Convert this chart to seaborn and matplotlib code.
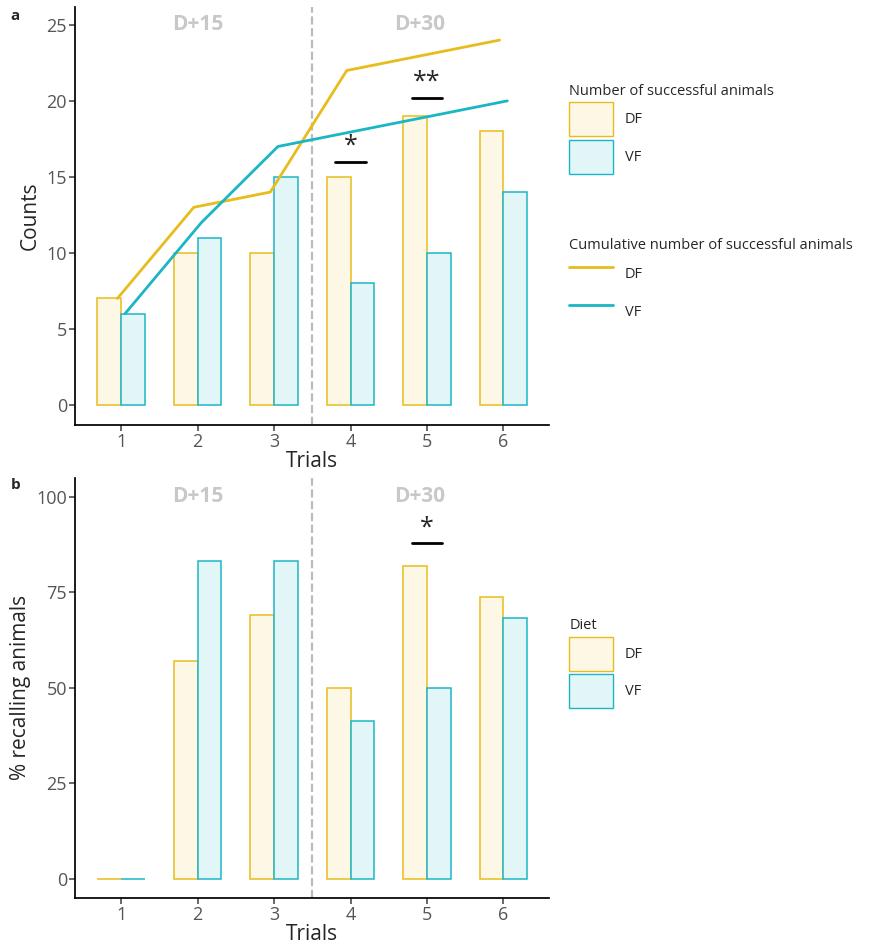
import numpy as np
import pandas as pd
import seaborn as sns
import matplotlib.pyplot as plt
from matplotlib.patches import Patch
from matplotlib.lines import Line2D

trials = ["1", "2", "3", "4", "5", "6"]
counts_df = [7, 10, 10, 15, 19, 18]
counts_vf = [6, 11, 15, 8, 10, 14]
cum_df = [7, 13, 14, 22, 23, 24]
cum_vf = [6, 12, 17, 18, 19, 20]
pct_df = [0, 57.1, 69.2, 50, 81.8, 73.9]
pct_vf = [0, 83.3, 83.3, 41.2, 50, 68.4]

DF_EDGE, DF_FILL = "#E8BC1C", "#FDF8E6"
VF_EDGE, VF_FILL = "#1BB6C6", "#E2F6F8"

sns.set_theme(style="white")
plt.rcParams['font.family'] = ['Open Sans', 'DejaVu Sans']

fig = plt.figure(figsize=(8.86, 9.5), dpi=100)
ax1 = fig.add_axes([0.085, 0.553, 0.535, 0.44])
ax2 = fig.add_axes([0.085, 0.055, 0.535, 0.442])


def bars(ax, v_df, v_vf):
    d = pd.DataFrame({"Trials": trials * 2, "val": v_df + v_vf,
                      "Diet": ["DF"] * 6 + ["VF"] * 6})
    sns.barplot(data=d, x="Trials", y="val", hue="Diet", ax=ax, width=0.62,
                gap=0, legend=False, errorbar=None)
    for i, p in enumerate(ax.patches):
        if i < 6:
            p.set_facecolor(DF_FILL); p.set_edgecolor(DF_EDGE)
        else:
            p.set_facecolor(VF_FILL); p.set_edgecolor(VF_EDGE)
        p.set_linewidth(1.1)
    ax.axvline(2.5, color="#BBBBBB", ls="--", lw=1.6, zorder=0)
    for s in ["top", "right"]:
        ax.spines[s].set_visible(False)
    for s in ["left", "bottom"]:
        ax.spines[s].set_color("black")
    ax.tick_params(axis="both", labelsize=13, colors="#555555", length=4,
                   left=True, bottom=True, pad=2)
    ax.set_xlabel("Trials", fontsize=15, labelpad=0)
    ax.set_xlim(-0.6, 5.6)


bars(ax1, counts_df, counts_vf)
x = np.arange(6)
ax1.plot(x - 0.05, cum_df, color=DF_EDGE, lw=2)
ax1.plot(x + 0.05, cum_vf, color=VF_EDGE, lw=2)
ax1.set_ylim(-1.3, 26.2)
ax1.set_yticks([0, 5, 10, 15, 20, 25])
ax1.set_ylabel("Counts", fontsize=15)
ax1.text(1, 25, "D+15", ha="center", va="center", fontsize=15, fontweight="bold", color="#C8C8C8")
ax1.text(3.9, 25, "D+30", ha="center", va="center", fontsize=15, fontweight="bold", color="#C8C8C8")
ax1.plot([2.8, 3.2], [16, 16], color="black", lw=2)
ax1.text(3, 16.2, "*", ha="center", va="bottom", fontsize=18)
ax1.plot([3.8, 4.2], [20.2, 20.2], color="black", lw=2)
ax1.text(4, 20.4, "**", ha="center", va="bottom", fontsize=18)

bars(ax2, pct_df, pct_vf)
ax2.set_ylim(-5, 105)
ax2.set_yticks([0, 25, 50, 75, 100])
ax2.set_ylabel("% recalling animals", fontsize=15)
ax2.text(1, 100, "D+15", ha="center", va="center", fontsize=15, fontweight="bold", color="#C8C8C8")
ax2.text(3.9, 100, "D+30", ha="center", va="center", fontsize=15, fontweight="bold", color="#C8C8C8")
ax2.plot([3.8, 4.2], [88, 88], color="black", lw=2)
ax2.text(4, 88.5, "*", ha="center", va="bottom", fontsize=18)

patches = [Patch(facecolor=DF_FILL, edgecolor=DF_EDGE, label="DF"),
           Patch(facecolor=VF_FILL, edgecolor=VF_EDGE, label="VF")]
lines = [Line2D([], [], color=DF_EDGE, lw=2, label="DF"),
         Line2D([], [], color=VF_EDGE, lw=2, label="VF")]
kw = dict(frameon=False, fontsize=10.5, title_fontsize=10.5, alignment="left",
          handlelength=3.0, handleheight=3.2, labelspacing=0.25,
          borderaxespad=0, handletextpad=0.8)
l1 = ax1.legend(handles=patches, title="Number of successful animals",
                loc="upper left", bbox_to_anchor=(1.03, 0.83), **kw)
ax1.add_artist(l1)
ax1.legend(handles=lines, title="Cumulative number of successful animals",
           loc="upper left", bbox_to_anchor=(1.03, 0.46), **kw)
ax2.legend(handles=patches, title="Diet", loc="upper left",
           bbox_to_anchor=(1.03, 0.68), **kw)

fig.text(0.012, 0.99, "a", fontsize=11, fontweight="bold", va="top")
fig.text(0.012, 0.497, "b", fontsize=11, fontweight="bold", va="top")
fig.savefig("out.png", dpi=100)
